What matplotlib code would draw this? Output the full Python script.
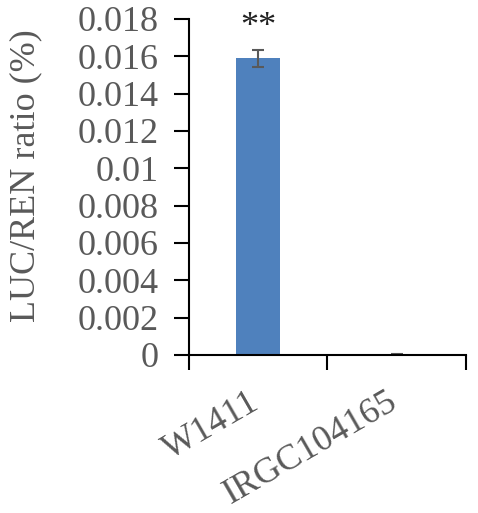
import matplotlib
matplotlib.use('Agg')
import matplotlib.pyplot as plt
import matplotlib.transforms as mtransforms
import numpy as np

# data
samples = ['W1411', 'IRGC104165']
ratio = [0.0159, 0.00003]
err = [0.00045, 0.00004]
colors = ['#4F81BD', '#8B0A0A']
marks = ['**', '']

plt.rcParams['font.family'] = ['Liberation Serif', 'DejaVu Serif']
gray = '#595959'

fig = plt.figure(figsize=(4.78, 5.13), dpi=100)
ax = fig.add_axes([0.395, 0.308, 0.58, 0.655])

x = np.arange(len(samples))
ax.bar(x, ratio, width=0.32, color=colors, yerr=err, ecolor=gray,
       error_kw=dict(capsize=4.5, elinewidth=1.5, capthick=1.5))
for xi, v, e, m in zip(x, ratio, err, marks):
    if m:
        ax.text(xi, v + e + 0.0003, m, ha='center', va='bottom',
                fontsize=26, color='#222222')

ax.set_xlim(-0.5, len(samples) - 0.5)
ax.set_ylim(0, 0.018)
ax.set_yticks(np.arange(0, 0.0181, 0.002))
ax.set_yticklabels(['0'] + ['%g' % t for t in np.arange(0.002, 0.0181, 0.002)])

ax.set_xticks(x)
ax.set_xticklabels(samples, rotation=30, ha='right', rotation_mode='anchor')
ax.set_xticks(np.arange(-0.5, len(samples)), minor=True)
ax.tick_params(axis='x', which='major', length=0, pad=14)
ax.tick_params(axis='x', which='minor', length=11, width=1.5, direction='out')
ax.tick_params(axis='y', length=11, width=1.5, direction='out', pad=11)
ax.tick_params(labelsize=26, labelcolor=gray)

# nudge the slanted labels a little left and down
shift = mtransforms.ScaledTranslation(-7 / 72, -8 / 72, fig.dpi_scale_trans)
for lab in ax.get_xticklabels():
    lab.set_transform(lab.get_transform() + shift)

for s in ['top', 'right']:
    ax.spines[s].set_visible(False)
for s in ['left', 'bottom']:
    ax.spines[s].set_linewidth(1.5)

ax.set_ylabel('LUC/REN ratio (%)', fontsize=26, color=gray)
ax.yaxis.set_label_coords(-0.527, 0.535)

fig.savefig('out.png', dpi=100)
